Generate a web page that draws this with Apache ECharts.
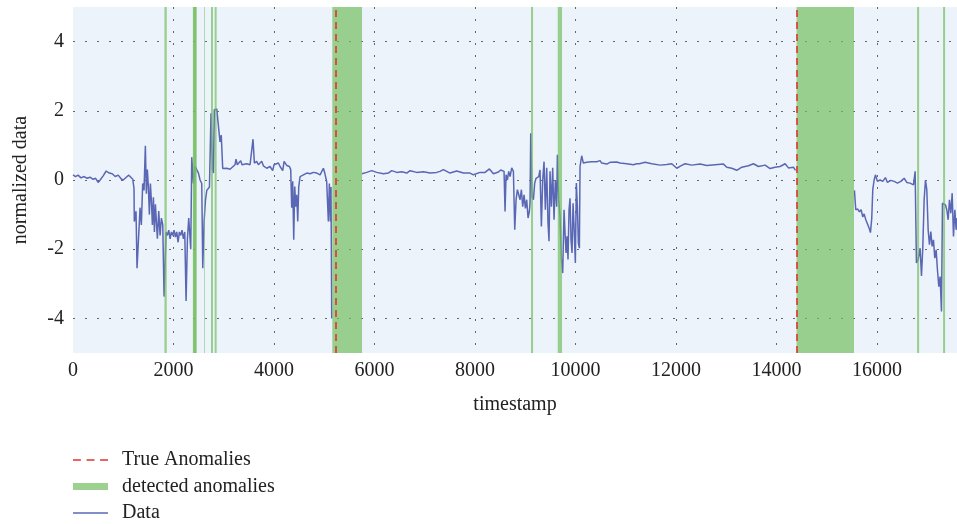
<!DOCTYPE html>
<html><head><meta charset="utf-8">
<script src="https://cdn.jsdelivr.net/npm/echarts@6/dist/echarts.min.js"></script>
<style>html,body{margin:0;padding:0;background:#fff}#c{width:957px;height:524px}</style>
</head><body><div id="c"></div>
<script>
// ---- data ----
const timestamps = [
0,50,100,160,220,280,340,400,450,500,540,600,660,720,780,840,900,960,1000,1060,1110,1150,1190,
1214,1220,1254,1274,1307,1334,1360,1387,1413,1440,1460,1480,1500,1520,1540,1560,1580,1600,1620,1640,1659,1679,1706,1733,1759,1786,1812,
1852,1879,1905,1932,1958,1985,2011,2038,2064,2091,2117,2144,2170,2197,2224,2250,2277,2303,2330,2343,2363,2396,2429,2462,2496,2529,2562,2582,
2609,2635,2662,2688,2715,2746,2775,2795,2812,2861,2892,2925,2950,2979,3058,3125,3224,3244,3270,3337,3363,3456,3523,3556,3582,3609,3655,3689,
3755,3788,3855,3921,3974,4000,4087,4120,4173,4200,4253,4306,4332,4352,4372,4392,4412,4432,4452,4472,4492,4519,4585,4652,4718,4784,4851,4917,
4982,5010,5048,5081,5101,5121,5134,5148,5400,
5751,5844,5944,6043,6176,6275,6342,6442,6541,6641,6707,6840,6972,7104,7237,7303,7370,7502,7635,7668,7768,7900,7967,8100,8199,8286,8365,8465,
8511,8577,8597,8617,8644,8670,8697,8730,8763,8790,8816,8843,8869,8896,8922,8949,8975,9002,9028,9055,9081,9094,9108,9134,9161,9187,9214,9240,
9267,9293,9320,9346,9373,9399,9426,9452,9472,9492,9519,9545,9572,9598,9625,9638,9665,9691,9718,9744,9771,9791,9811,9830,9850,9870,9890,9910,
9930,9950,9970,9996,10016,10036,10056,10076,10089,10122,10155,10222,10321,10421,10488,10520,10620,10687,10719,10819,10853,10885,11019,11150,
11218,11269,11384,11516,11682,11815,11914,12014,12093,12180,12312,12478,12611,12777,12943,13009,13108,13208,13308,13440,13540,13639,13772,
13871,13971,14070,14170,14236,14336,14376,14900,
15549,15576,15616,15649,15682,15715,15742,15775,15808,15841,15868,15894,15914,15941,15967,16007,16060,16113,16166,16206,16272,16339,16405,
16472,16538,16591,16657,16724,16757,16783,16817,16856,16883,16909,16936,16963,16989,17016,17042,17069,17095,17122,17148,17175,17201,17228,
17254,17281,17301,17334,17360,17387,17414,17440,17467,17494,17520,17547,17573,17590
];
const values = [
0.15,0.1,0.14,0.06,0.1,0.05,0.08,0.02,0.05,-0.07,0.0,0.12,0.26,0.2,0.18,0.1,0.14,0.03,0.0,0.08,0.14,0.08,0.02,
-0.25,-1.2,-0.9,-2.55,-1.6,-0.8,-1.3,-0.1,-0.3,0.99,-0.4,0.3,-0.2,-1.0,-0.1,-0.6,-1.3,-0.5,-1.5,-0.7,-1.2,-1.7,-0.9,-1.6,-1.1,-1.3,-3.37,
-1.5,-1.6,-1.45,-1.7,-1.5,-1.6,-1.45,-1.65,-1.5,-1.8,-1.5,-1.6,-1.45,-1.7,-1.5,-3.5,-1.7,-1.1,-1.15,-2.0,0.66,-0.1,0.4,0.3,0.2,0.0,-0.1,-2.55,
-1.2,-0.6,-0.3,-0.35,-0.2,1.93,0.3,0.2,2.03,2.05,2.03,1.1,1.3,0.33,0.34,0.31,0.44,0.6,0.44,0.56,0.44,0.47,0.44,0.49,1.18,0.49,0.54,0.44,
0.54,0.41,0.34,0.39,0.27,0.44,0.49,0.39,0.27,0.54,0.42,0.39,0.3,-0.8,-0.04,-1.73,-0.19,-0.77,-0.43,-1.2,-0.19,0.1,0.15,0.2,0.18,0.22,0.2,0.15,
0.34,0.2,-0.05,-1.2,-0.1,-1.2,-0.2,-4.0,null,
0.18,0.22,0.27,0.22,0.18,0.2,0.27,0.22,0.24,0.2,0.27,0.22,0.24,0.2,0.22,0.25,0.3,0.2,0.26,0.3,0.2,0.2,0.15,0.22,0.22,0.32,0.18,0.23,
0.29,0.25,-0.91,0.15,0.0,0.25,0.1,0.35,0.25,-1.44,-0.57,-0.28,-0.33,-0.57,-0.28,-0.77,-0.43,-0.82,-0.57,-1.1,-0.91,-0.67,1.35,-0.48,-0.57,-0.09,0.05,0.0,
0.1,0.29,-1.34,0.0,0.53,-0.86,0.35,-1.25,-1.77,0.25,-0.77,0.35,-1.15,0.0,-0.77,0.73,-0.57,-1.05,-2.3,-2.69,-0.86,-1.54,-2.11,-1.63,-2.3,-0.86,-0.53,-1.73,
-2.11,-0.67,-1.34,-2.4,-0.09,-0.77,-1.83,-1.97,0.39,0.7,0.49,0.51,0.53,0.53,0.56,0.49,0.46,0.51,0.53,0.52,0.54,0.49,0.47,0.44,
0.47,0.47,0.51,0.47,0.43,0.45,0.47,0.34,0.41,0.47,0.43,0.46,0.42,0.44,0.46,0.37,0.34,0.28,0.37,0.41,0.47,0.39,0.43,
0.33,0.37,0.39,0.47,0.35,0.37,0.28,null,
-0.3,-0.86,-0.84,-0.92,-0.86,-1.07,-0.98,-1.15,-1.1,-1.39,-1.52,-1.1,-0.28,0.0,0.15,-0.04,0.0,-0.04,0.07,-0.07,-0.01,-0.04,-0.09,
-0.04,0.05,-0.07,-0.09,-0.14,0.25,-2.4,-2.3,-1.97,-2.77,-1.97,-0.57,0.0,-0.28,-1.44,-1.87,-1.49,-1.92,-1.73,-2.26,-2.02,-2.6,-3.08,
-2.79,-3.8,-0.67,-0.62,-0.72,-0.86,-1.15,-0.57,-0.96,-0.38,-1.63,-0.86,-1.44,-1.1
];
const detectedStart = [1820, 2385, 2395, 2607, 2746, 2819, 5160, 9114, 9645, 14398, 16796, 17313];
const detectedEnd   = [1865, 2450, 2462, 2621, 2786, 2858, 5751, 9154, 9731, 15540, 16836, 17353];
const trueAnomalies = [5235, 14395];
const xTicks = [0, 2000, 4000, 6000, 8000, 10000, 12000, 14000, 16000];
const yTicks = [-4, -2, 0, 2, 4];
const legendNames = ['True Anomalies', 'detected anomalies', 'Data'];

// ---- chart ----
const FONT = "'Liberation Serif', 'DejaVu Serif', serif";
const RED = '#e0352b';
const GREEN = 'rgba(115,189,96,0.7)';
const BLUE = '#5a67b4';
const dots = { type: [2, 10], color: '#666', width: 1 };

const chart = echarts.init(document.getElementById('c'), null, { renderer: 'canvas' });
chart.setOption({
  animation: false,
  textStyle: { fontFamily: FONT },
  grid: { left: 73, right: 0, top: 7, bottom: 171, show: true, backgroundColor: '#edf3fa', borderWidth: 0 },
  legend: {
    orient: 'vertical', left: 73, top: 450, padding: 0, height: 160,
    itemWidth: 35, itemHeight: 14, itemGap: 6.5, selectedMode: false,
    itemStyle: { borderWidth: 0 },
    textStyle: { fontFamily: FONT, fontSize: 20, lineHeight: 14, color: '#222', padding: [0, 0, 0, 9] },
    data: [
      { name: legendNames[0], icon: 'path://M0,0H7.3V1.5H0Z M12.5,0H19.8V1.5H12.5Z M25,0H32.3V1.5H25Z', itemStyle: { color: RED, borderWidth: 0 } },
      { name: legendNames[1], icon: 'path://M0,0H35V7H0Z', itemStyle: { color: GREEN, borderWidth: 0 } },
      { name: legendNames[2], icon: 'path://M0,0H35V1.3H0Z', itemStyle: { color: BLUE, borderWidth: 0 } }
    ]
  },
  xAxis: {
    type: 'value', min: 0, max: 17590,
    name: 'timestamp', nameLocation: 'middle', nameGap: 42,
    nameTextStyle: { fontFamily: FONT, fontSize: 20, color: '#222' },
    axisLine: { show: false },
    axisTick: { show: false, customValues: xTicks },
    axisLabel: { customValues: xTicks, formatter: v => String(v), fontFamily: FONT, fontSize: 20, color: '#222', margin: 8 },
    splitLine: { show: true, showMinLine: false, showMaxLine: true, lineStyle: dots }
  },
  yAxis: {
    type: 'value', min: -5, max: 5,
    name: 'normalized data', nameLocation: 'middle', nameGap: 42,
    nameTextStyle: { fontFamily: FONT, fontSize: 20, color: '#222' },
    axisLine: { show: false },
    axisTick: { show: false, customValues: yTicks },
    axisLabel: { customValues: yTicks, formatter: v => String(v), fontFamily: FONT, fontSize: 20, color: '#222', margin: 9 },
    splitLine: { show: true, showMinLine: true, showMaxLine: true, lineStyle: dots }
  },
  series: [
    {
      name: legendNames[2], type: 'line', z: 2, symbol: 'none', connectNulls: false,
      color: BLUE, lineStyle: { color: BLUE, width: 1.5 },
      data: timestamps.map((t, i) => [t, values[i]])
    },
    {
      name: legendNames[1], type: 'line', z: 3, symbol: 'none', data: [],
      color: GREEN, lineStyle: { color: GREEN, width: 7 },
      markArea: {
        silent: true, z: 3,
        itemStyle: { color: GREEN, borderWidth: 0 },
        data: detectedStart.map((s, i) => [{ xAxis: s }, { xAxis: detectedEnd[i] }])
      }
    },
    {
      name: legendNames[0], type: 'line', z: 4, symbol: 'none', data: [],
      color: RED, lineStyle: { color: RED, width: 1.5, type: [7, 5] },
      markLine: {
        silent: true, z: 5, symbol: ['none', 'none'],
        label: { show: false },
        lineStyle: { color: RED, width: 1.6, type: [7, 5] },
        data: trueAnomalies.map(t => ({ xAxis: t }))
      }
    }
  ]
});
</script>
</body></html>
